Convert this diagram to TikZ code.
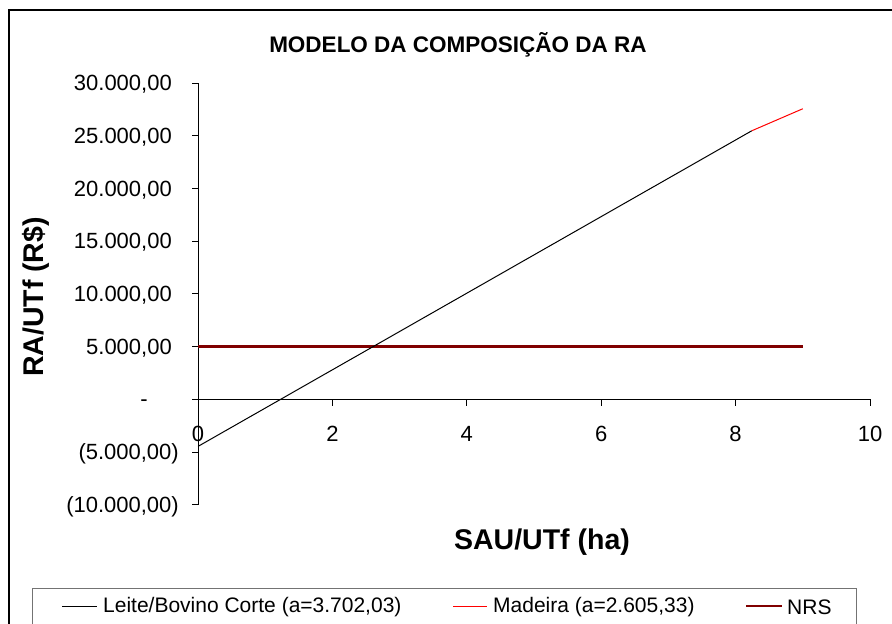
\documentclass[tikz,border=0pt]{standalone}
\usepackage{fontspec}
\setmainfont{Liberation Sans}
\usetikzlibrary{positioning}
\definecolor{nrsred}{RGB}{128,0,0}
\tikzset{
	frame/.style={draw=black, line width=1.2pt}, % border round the whole chart
	axis/.style={draw=black, line width=1pt}, % axes and their ticks
	tick label/.style={inner sep=0pt, font=\fontsize{22}{26}\selectfont}, % numbers on the axes
	axis title/.style={inner sep=0pt, font=\bfseries\fontsize{28.5}{32}\selectfont}, % names of the axes
	chart title/.style={inner sep=0pt, font=\bfseries\fontsize{22.5}{26}\selectfont},
	leite/.style={draw=black, line width=1pt}, % Leite/Bovino Corte series
	madeira/.style={draw=red, line width=1pt}, % Madeira series
	nrs/.style={draw=nrsred, line width=2.4pt}, % NRS level
	legend frame/.style={draw=black!55, line width=1pt},
	legend text/.style={inner sep=0pt, font=\fontsize{21}{24}\selectfont},
}

\begin{document}
\begin{tikzpicture}[x=1pt, y=-1pt]
	\path[use as bounding box, clip] (0,0) rectangle (892,624);
	\draw[frame] (9,10) rectangle (910,650);
	\node[chart title, anchor=base] (title) at (458,52) {MODELO DA COMPOSIÇÃO DA RA};

	% plot area, in data units (x in ha, y in thousands of R$)
	\begin{scope}[shift={(198,399.3)}, x=67.2pt, y=10.54pt]
		\coordinate (O) at (0,0);
		\coordinate (xend) at (10,0);
		\coordinate (ytop) at (0,30);
		\coordinate (ybot) at (0,-10);
		\draw[axis] (ytop) -- (ybot);
		\draw[axis] (O) -- (xend);
		\foreach \v in {-10,-5,...,30}
			\draw[axis] (0,\v) -- ++(-6.5pt,0);
		\foreach \v in {2,4,...,10}
			\draw[axis] (\v,0) -- ++(0,-6.5pt);
		\foreach \v/\t/\dx in {30/{30.000,00}/26, 25/{25.000,00}/26, 20/{20.000,00}/26,
				15/{15.000,00}/26, 10/{10.000,00}/26, 5/{5.000,00}/26, 0/{-}/50,
				-5/{(5.000,00)}/19, -10/{(10.000,00)}/19}
			\node[tick label, anchor=base east, xshift=-\dx pt, yshift=-7.5pt] (ytick\v) at (0,\v) {\t};
		\foreach \v in {0,2,...,10}
			\node[tick label, anchor=base, yshift=-41.7pt] (xtick\v) at (\v,0) {\v};

		\coordinate (l0) at (0,-4.47);
		\coordinate (l1) at (8.24,25.475);
		\coordinate (m1) at (9,27.567);
		\coordinate (n0) at (0,5);
		\coordinate (n1) at (9,5);
		\draw[nrs] (n0) -- (n1);
		\draw[leite] (l0) -- (l1);
		\draw[madeira] (l1) -- (m1);
	\end{scope}

	\node[axis title, anchor=base] (xtitle) at (542,549) {SAU/UTf (ha)};
	\node[axis title, anchor=base, rotate=90] (ytitle) at (43,297) {RA/UTf (R\$)};

	% legend
	\draw[legend frame] (32,588) rectangle (856,660);
	\coordinate (k1) at (62,606);
	\coordinate (k1e) at (97,606);
	\coordinate (k2) at (453,606);
	\coordinate (k2e) at (487,606);
	\coordinate (k3) at (746,606);
	\coordinate (k3e) at (782,606);
	\draw[leite] (k1) -- (k1e);
	\draw[madeira] (k2) -- (k2e);
	\draw[nrs] (k3) -- (k3e);
	\node[legend text, right=6pt of k1e, yshift=-1.5pt] (leg1) {Leite/Bovino Corte (a=3.702,03)};
	\node[legend text, right=6pt of k2e, yshift=-1.5pt] (leg2) {Madeira (a=2.605,33)};
	\node[legend text, right=5pt of k3e, yshift=-1.5pt] (leg3) {NRS};
\end{tikzpicture}
\end{document}
